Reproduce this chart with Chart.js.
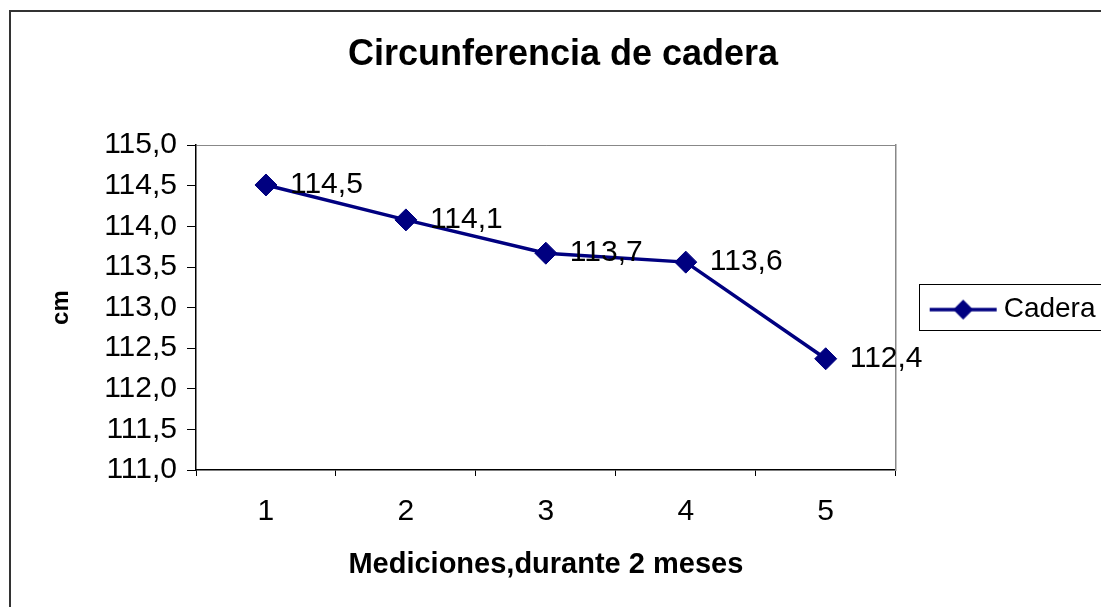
<!DOCTYPE html>
<html>
<head>
<meta charset="utf-8">
<script src="https://cdn.jsdelivr.net/npm/chart.js@4"></script>
<style>
  html, body { margin: 0; padding: 0; background: #fff; }
  #wrap { width: 1101px; height: 607px; position: relative; }
</style>
</head>
<body>
<div id="wrap"><canvas id="grafico"></canvas></div>
<script>
var categorias = ['1', '2', '3', '4', '5'];
var cadera = [114.51, 114.08, 113.67, 113.56, 112.37];
var serieNombre = 'Cadera';
var titulo = 'Circunferencia de cadera';
var tituloX = 'Mediciones,durante 2 meses';
var tituloY = 'cm';

var fuente = "Arial, 'Liberation Sans', sans-serif";
var azul = '#000080';

// legend symbol: line with a diamond on it, like Excel
var simbolo = document.createElement('canvas');
simbolo.width = 80;
simbolo.height = 26;
var sctx = simbolo.getContext('2d');
sctx.strokeStyle = azul;
sctx.lineWidth = 3.5;
sctx.beginPath();
sctx.moveTo(9, 13);
sctx.lineTo(76, 13);
sctx.stroke();
sctx.fillStyle = azul;
sctx.beginPath();
sctx.moveTo(42.5 - 10, 13);
sctx.lineTo(42.5, 3);
sctx.lineTo(42.5 + 10, 13);
sctx.lineTo(42.5, 23);
sctx.closePath();
sctx.fill();

function coma(v, d) {
  return Number(v).toFixed(d).replace('.', ',');
}

var marco = {
  id: 'marco',
  beforeDraw: function(chart) {
    var c = chart.ctx;
    c.save();
    c.fillStyle = '#fff';
    c.fillRect(0, 0, chart.width, chart.height);
    c.strokeStyle = '#333';
    c.lineWidth = 2;
    c.beginPath();
    c.moveTo(10, chart.height + 5);
    c.lineTo(10, 11);
    c.lineTo(chart.width + 5, 11);
    c.stroke();
    c.restore();
  },
  afterDraw: function(chart) {
    var lg = chart.legend;
    var hb = lg.legendHitBoxes[0];
    if (!hb) return;
    var c = chart.ctx;
    c.save();
    c.strokeStyle = '#000';
    c.lineWidth = 1;
    c.strokeRect(Math.round(lg.left) - 2.5, Math.round(hb.top - 12) + 0.5, 400, 46);
    c.restore();
  }
};

var etiquetas = {
  id: 'etiquetas',
  afterDatasetsDraw: function(chart) {
    var c = chart.ctx;
    var meta = chart.getDatasetMeta(0);
    c.save();
    c.font = '30px ' + fuente;
    c.fillStyle = '#000';
    c.textAlign = 'left';
    c.textBaseline = 'middle';
    meta.data.forEach(function(p, i) {
      c.fillText(coma(cadera[i], 1), p.x + 24, p.y);
    });
    c.restore();
  }
};

var ctx = document.getElementById('grafico');
var grafico = new Chart(ctx, {
  type: 'line',
  data: {
    labels: categorias,
    datasets: [{
      label: serieNombre,
      data: cadera,
      borderColor: azul,
      backgroundColor: azul,
      borderWidth: 3.5,
      pointStyle: 'rectRot',
      pointRadius: 11,
      pointHoverRadius: 11,
      pointBorderWidth: 1,
      pointBackgroundColor: azul,
      pointBorderColor: azul,
      tension: 0,
      fill: false
    }]
  },
  options: {
    responsive: true,
    maintainAspectRatio: false,
    animation: false,
    events: [],
    layout: { padding: { left: 25, right: 0, top: 0, bottom: 0 } },
    plugins: {
      tooltip: { enabled: false },
      title: {
        display: true,
        text: titulo,
        color: '#000',
        font: { family: fuente, size: 36, weight: 'bold' },
        padding: { top: 33, bottom: 69 }
      },
      legend: {
        display: true,
        position: 'right',
        title: {
          display: true,
          text: '',
          font: { family: fuente, size: 1 },
          padding: { top: 11, bottom: 0 }
        },
        labels: {
          color: '#000',
          font: { family: fuente, size: 28 },
          usePointStyle: true,
          pointStyle: simbolo,
          pointStyleWidth: 58,
          padding: 10
        }
      }
    },
    scales: {
      x: {
        type: 'category',
        offset: true,
        grid: {
          offset: true,
          drawOnChartArea: false,
          drawTicks: true,
          tickLength: 6,
          tickColor: '#000'
        },
        border: { display: true, color: '#000', width: 1.5 },
        ticks: {
          color: '#000',
          font: { family: fuente, size: 30 },
          padding: 18,
          maxRotation: 0
        },
        title: {
          display: true,
          text: tituloX,
          color: '#000',
          font: { family: fuente, size: 29, weight: 'bold' },
          padding: { top: 0, bottom: 25 }
        },
        afterFit: function(scale) { scale.height = 137; }
      },
      y: {
        type: 'linear',
        position: 'left',
        min: 111,
        max: 115,
        grid: {
          drawOnChartArea: true,
          tickLength: 9,
          tickColor: '#000',
          color: function(c) {
            return (c.tick && c.tick.value === 115) ? '#888' : 'rgba(0,0,0,0)';
          }
        },
        border: { display: true, color: '#000', width: 1.5 },
        ticks: {
          stepSize: 0.5,
          color: '#000',
          font: { family: fuente, size: 30 },
          padding: 10,
          callback: function(v) { return coma(v, 1); }
        },
        title: {
          display: true,
          text: tituloY,
          color: '#000',
          font: { family: fuente, size: 24, weight: 'bold' },
          padding: { top: 22, bottom: 0 }
        },
        afterFit: function(scale) { scale.width = 171; }
      },
      y1: {
        type: 'linear',
        position: 'right',
        grid: { drawOnChartArea: false, drawTicks: false },
        border: { display: true, color: '#888', width: 1.5 },
        ticks: { display: false },
        afterFit: function(scale) { scale.width = 26; }
      }
    }
  },
  plugins: [marco, etiquetas]
});
</script>
</body>
</html>
